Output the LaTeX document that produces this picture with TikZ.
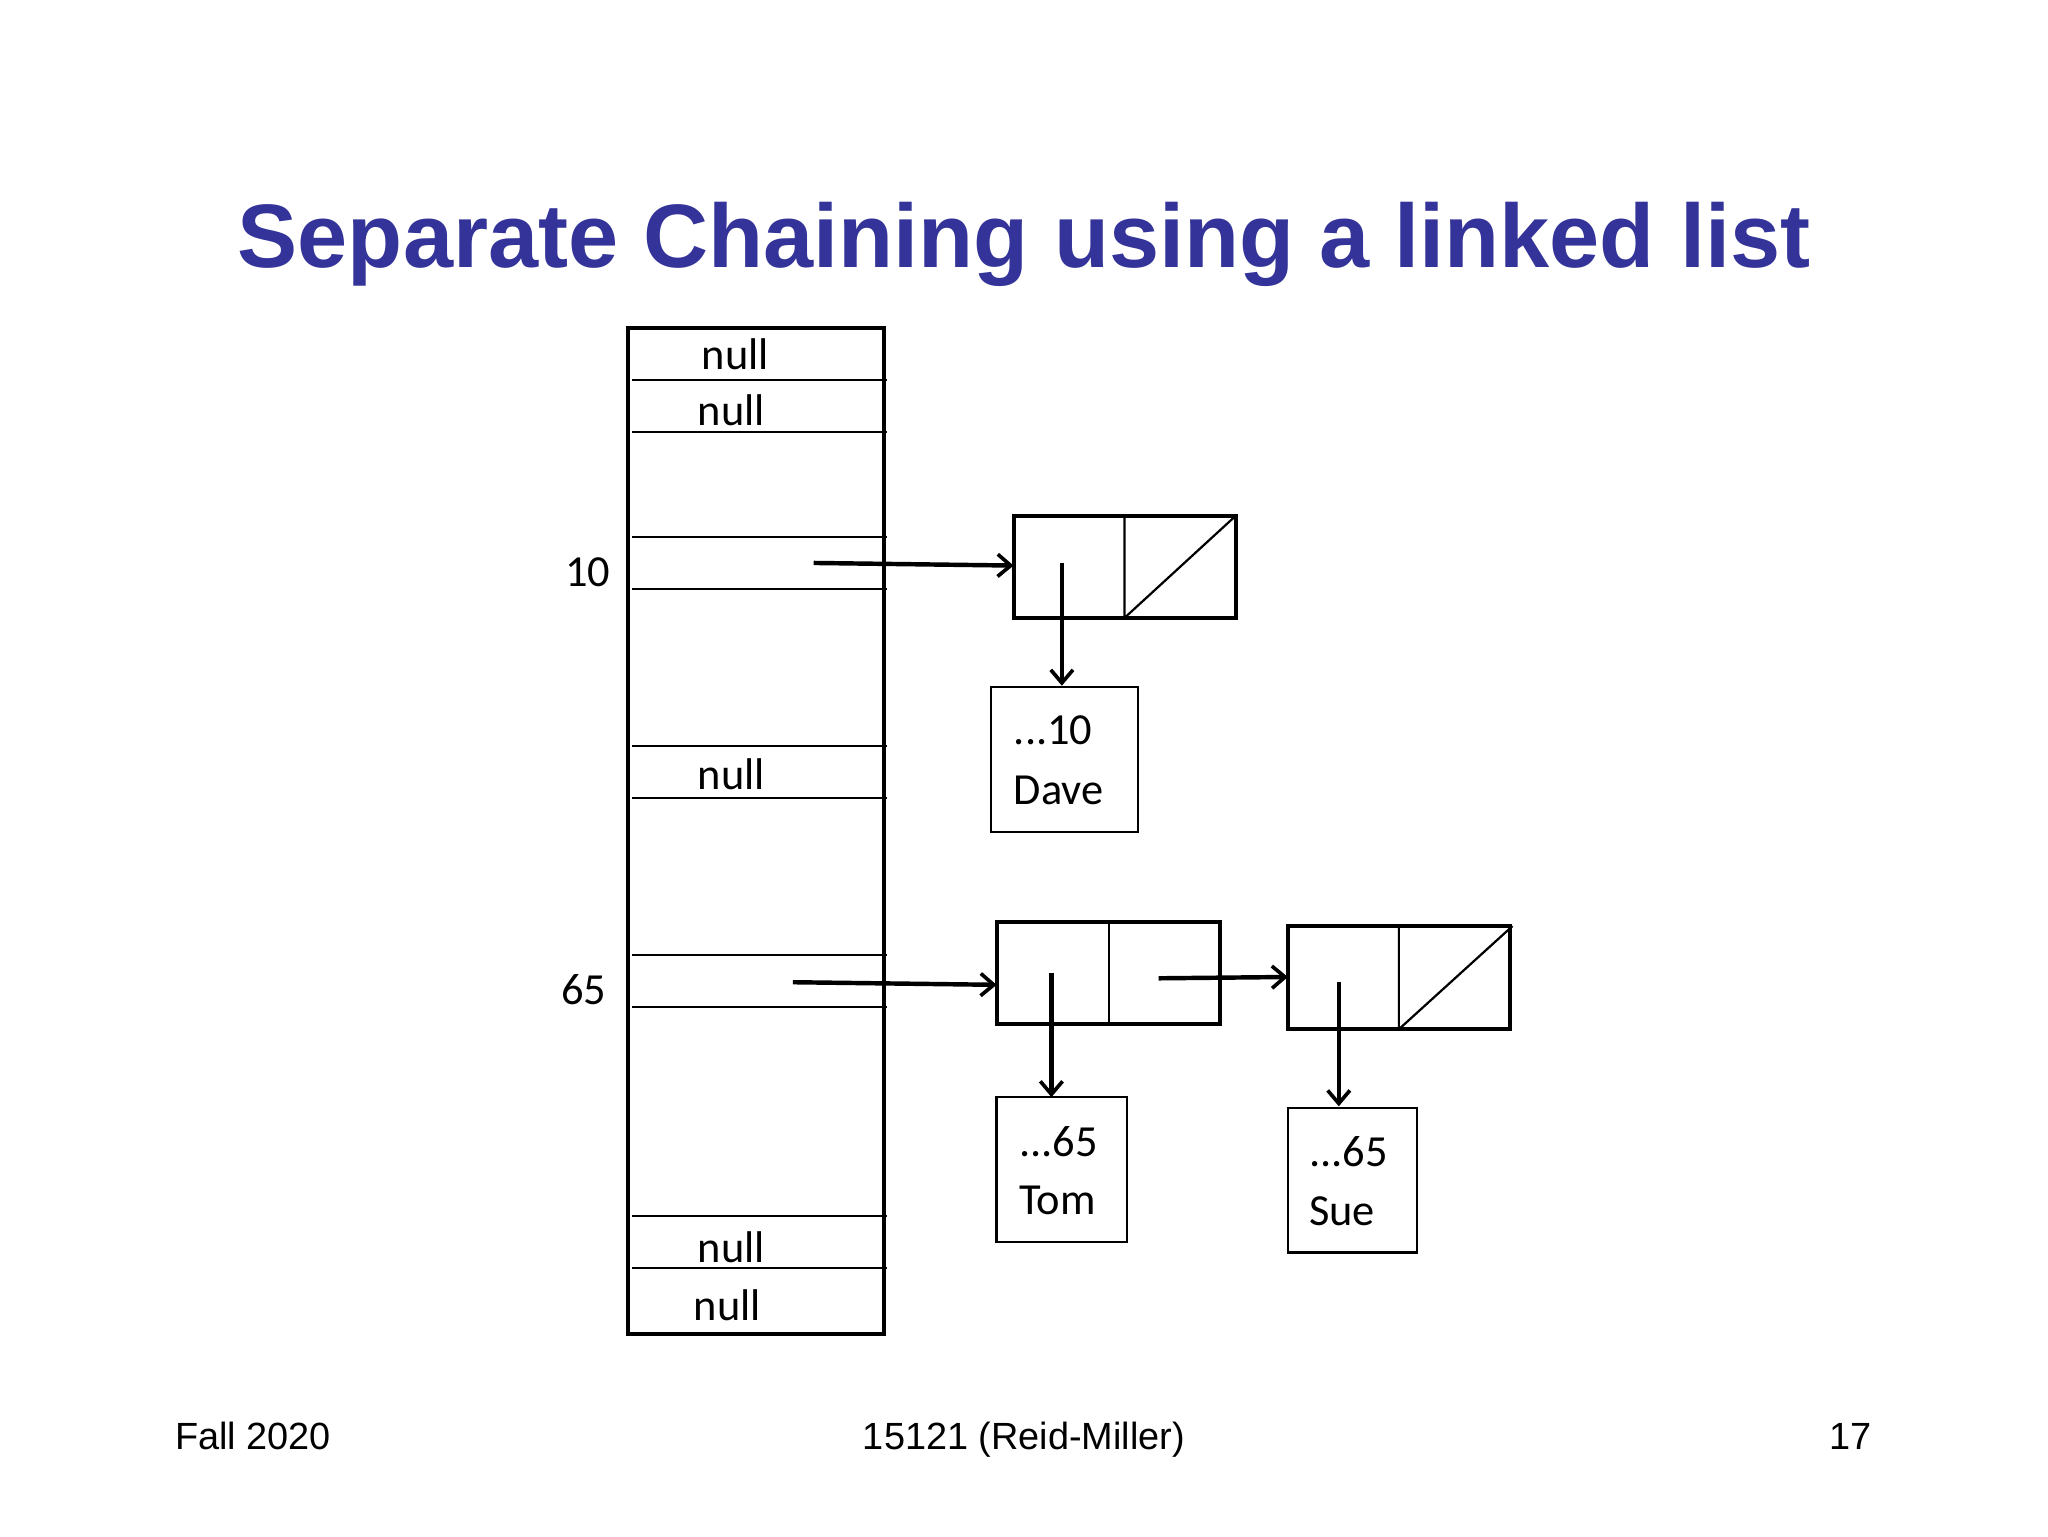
\documentclass[tikz,border=0pt]{standalone}
\usepackage{fontspec}
\setmainfont{Carlito}
\newfontfamily\arialf{Liberation Sans}
\usetikzlibrary{arrows.meta}
\definecolor{titleblue}{RGB}{51,51,153}
\begin{document}
\begin{tikzpicture}[x=1pt,y=-1pt,
  thick/.style={line width=3pt},
  thin1/.style={line width=1.7pt},
  arr/.style={line width=3.4pt,-{Straight Barb[length=10pt,width=17pt,line width=2.8pt]}},
  lbl/.style={font=\fontsize{34}{38}\selectfont,inner sep=0pt}]
\useasboundingbox (0,0) rectangle (1568,1176);
\node[font=\arialf\bfseries\fontsize{69}{74}\selectfont,text=titleblue] (title) at (784,187) {Separate Chaining using a linked list};
% table
\draw[thick] (481,251) rectangle (677,1021);
\foreach \y in {291,331,411,451,571,611,731,771,931,971} \draw[thin1] (484,\y) -- (679,\y);
\node[lbl] (n1) at (563,271) {null};
\node[lbl] (n2) at (560,314) {null};
\node[lbl] (n3) at (560,593) {null};
\node[lbl] (n4) at (560,955) {null};
\node[lbl] (n5) at (557,999) {null};
\node[lbl] (i10) at (450,438) {10};
\node[lbl] (i65) at (447,758) {65};
% list nodes
\draw[thick] (776,395) rectangle (946,473);
\draw[thin1] (861,395) -- (861,473) (861,473) -- (946,395);
\draw[thick] (763,706) rectangle (934,784);
\draw[thin1] (849,706) -- (849,784);
\draw[thick] (986,709) rectangle (1156,788);
\draw[thin1] (1071,709) -- (1071,788) (1071,788) -- (1158,709);
% value boxes
\draw[thin1] (759,526) rectangle (871,637);
\node[lbl,anchor=west] (d1) at (776,559) {...10};
\node[lbl,anchor=west] (d2) at (776,605) {Dave};
\draw[thin1] (763,840) rectangle (863,951);
\node[lbl,anchor=west] (t1) at (780,874) {...65};
\node[lbl,anchor=west] (t2) at (780,919) {Tom};
\draw[thin1] (986,848) rectangle (1085,959);
\node[lbl,anchor=west] (s1) at (1002,882) {...65};
\node[lbl,anchor=west] (s2) at (1002,927) {Sue};
% arrows
\coordinate (a1s) at (623,431); \coordinate (a1e) at (776,433);
\coordinate (b1s) at (813,431); \coordinate (b1e) at (813,525);
\coordinate (a2s) at (607,752); \coordinate (a2e) at (763,754);
\coordinate (b2s) at (805,745); \coordinate (b2e) at (805,840);
\coordinate (a3s) at (887,749); \coordinate (a3e) at (986,748);
\coordinate (b3s) at (1025,752); \coordinate (b3e) at (1025,847);
\draw[arr] (a1s) -- (a1e);
\draw[arr] (b1s) -- (b1e);
\draw[arr] (a2s) -- (a2e);
\draw[arr] (b2s) -- (b2e);
\draw[arr] (a3s) -- (a3e);
\draw[arr] (b3s) -- (b3e);
% footer
\node[font=\arialf\fontsize{29}{32}\selectfont,anchor=base west,inner sep=0pt] (f1) at (134,1110) {Fall 2020};
\node[font=\arialf\fontsize{29}{32}\selectfont,anchor=base,inner sep=0pt] (f2) at (784,1110) {15121 (Reid-Miller)};
\node[font=\arialf\fontsize{29}{32}\selectfont,anchor=base east,inner sep=0pt] (f3) at (1433,1110) {17};
\end{tikzpicture}
\end{document}
